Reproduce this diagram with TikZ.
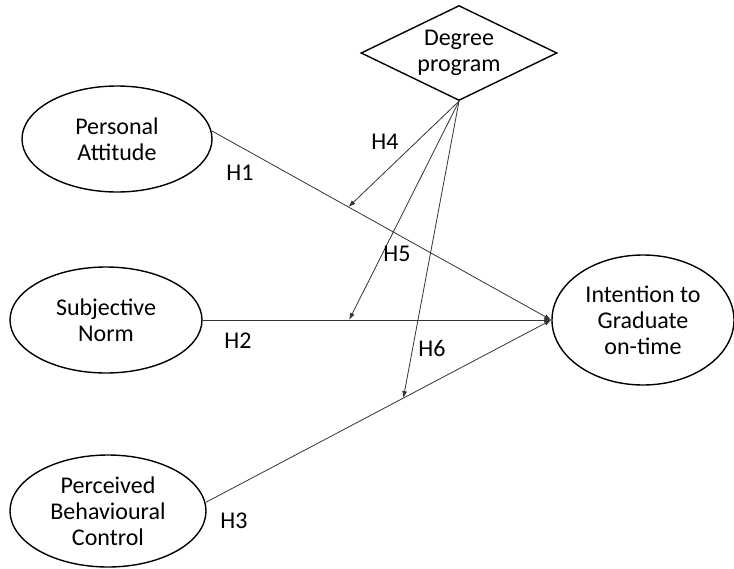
\documentclass[tikz,border=0pt]{standalone}
\usepackage{fontspec}
\setmainfont{Carlito}
\usetikzlibrary{shapes.geometric,arrows.meta}

\begin{document}
\begin{tikzpicture}[x=1pt,y=-1pt,
  txt/.style={font=\fontsize{24}{26}\selectfont},
  construct/.style={txt,draw,ellipse,line width=1.4pt,inner sep=0pt,align=center},
  link/.style={line width=0.8pt,draw=black!80,-{Latex[length=7pt,width=5pt]}}]
\useasboundingbox (0,0) rectangle (734,568);
\node[construct,minimum width=190pt,minimum height=106pt] (att) at (117,139) {Personal\\Attitude};
\node[construct,minimum width=192pt,minimum height=106pt] (norm) at (106,320) {Subjective\\Norm};
\node[construct,minimum width=196pt,minimum height=112pt] (pbc) at (108,511) {Perceived\\Behavioural\\Control};
\node[construct,minimum width=182pt,minimum height=130pt] (int) at (643,320) {Intention to\\Graduate\\on-time};
\node[txt,draw,diamond,line width=1.4pt,inner sep=0pt,aspect=2.1,minimum width=196pt,minimum height=95pt,align=center] (deg) at (459,53) {Degree\\program};
\draw[link] (att.5) -- coordinate[pos=0.403] (m1) (int.west);
\draw[link] (norm.east) -- coordinate[pos=0.42] (m2) (int.west);
\draw[link] (pbc.5) -- coordinate[pos=0.572] (m3) (int.west);
\draw[link] (deg.south) -- (m1);
\draw[link] (deg.south) -- (m2);
\draw[link] (deg.south) -- (m3);
\node[txt] (h1) at (240,173) {H1};
\node[txt] (h2) at (238,341) {H2};
\node[txt] (h3) at (234,521) {H3};
\node[txt] (h4) at (385,142) {H4};
\node[txt] (h5) at (397,254) {H5};
\node[txt] (h6) at (432,348) {H6};
\end{tikzpicture}
\end{document}
